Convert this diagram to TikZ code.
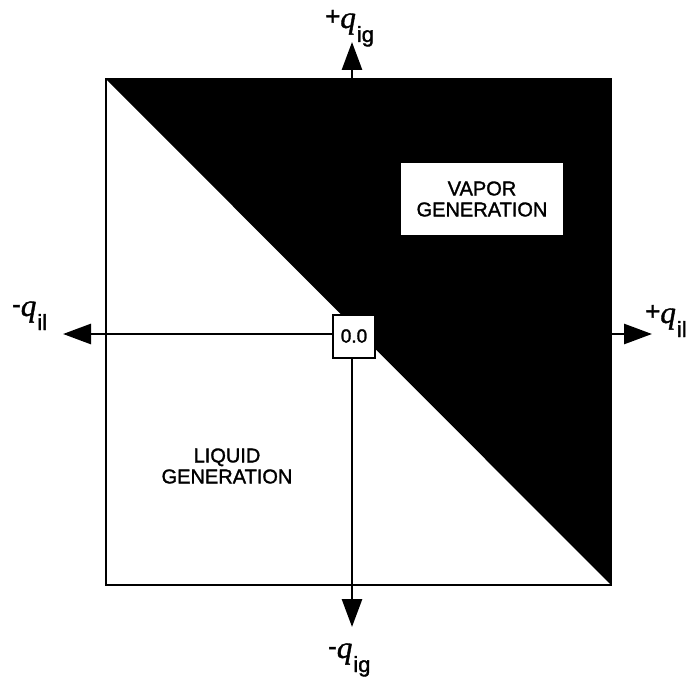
\documentclass[tikz,border=0pt]{standalone}
\usepackage{fontspec}
\setmainfont[FakeBold=1.5]{Liberation Sans}
\newfontfamily\qfont[FakeBold=1.2]{Liberation Serif}
\usetikzlibrary{arrows.meta}
\newcommand{\qlab}[2]{\raisebox{3pt}{\fontsize{26}{26}\selectfont #1}{\qfont\fontsize{31}{31}\selectfont\itshape q}\kern1pt\raisebox{-14pt}{\fontsize{22}{22}\selectfont #2}}
\tikzset{
  axisline/.style={line width=2.8pt, {Triangle[length=28pt,width=20pt]}-{Triangle[length=28pt,width=20pt]}},
  frame/.style={line width=2pt},
  textbox/.style={fill=white, inner sep=0pt, align=center, font=\fontsize{20}{21}\selectfont},
  plaintext/.style={inner sep=0pt, align=center, font=\fontsize{20}{21}\selectfont},
  qlabel/.style={inner sep=0pt, anchor=base west},
}
\begin{document}
\begin{tikzpicture}[x=1pt,y=-1pt]
\useasboundingbox[fill=white] (0,0) rectangle (696,677);
\coordinate (TL) at (106,79);
\coordinate (TR) at (611,79);
\coordinate (BR) at (611,585);
\coordinate (BL) at (106,585);
\fill[black] (TL) -- (TR) -- (BR) -- cycle;
\draw[frame] (TL) rectangle (BR);
\coordinate (L) at (63,334);
\coordinate (R) at (652,334);
\coordinate (T) at (352,42);
\coordinate (B) at (352,627);
\draw[axisline] (L) -- (R);
\draw[axisline] (B) -- (T);
\node[draw, line width=2pt, fill=white, minimum width=42pt, minimum height=43pt, inner sep=0pt, font=\fontsize{19}{19}\selectfont] (o) at (354,336) {0.0};
\node[textbox, minimum width=162pt, minimum height=72pt] (vap) at (482,199) {VAPOR\\GENERATION};
\node[plaintext] (liq) at (227,466) {LIQUID\\GENERATION};
\node[qlabel] (qt) at (325,28) {\qlab{+}{ig}};
\node[qlabel] (qb) at (328,658) {\qlab{-}{ig}};
\node[qlabel] (ql) at (12,316) {\qlab{-}{il}};
\node[qlabel] (qr) at (645,323) {\qlab{+}{il}};
\end{tikzpicture}
\end{document}
